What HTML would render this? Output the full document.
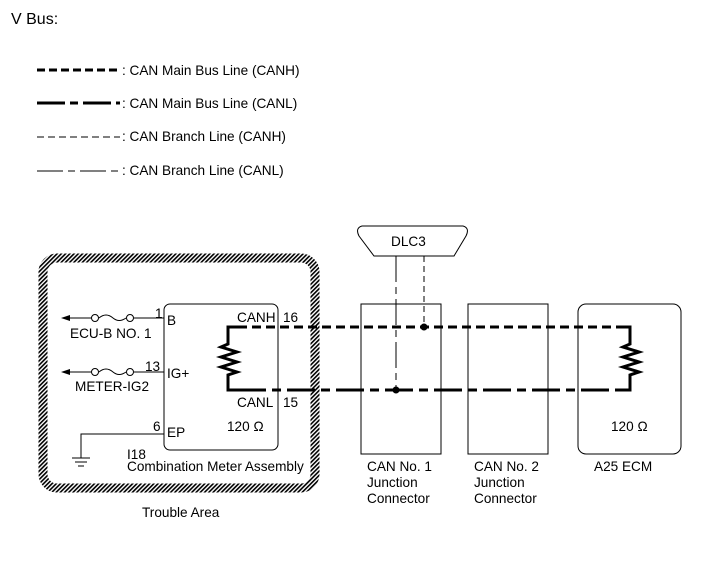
<!DOCTYPE html>
<html><head><meta charset="utf-8"><style>
html,body{margin:0;padding:0;background:#fff;}
svg{display:block;font-family:"Liberation Sans",Arial,sans-serif;}
</style></head><body>
<svg width="713" height="581" viewBox="0 0 713 581" xmlns="http://www.w3.org/2000/svg">
<defs>
<pattern id="h" width="3" height="3" patternUnits="userSpaceOnUse" patternTransform="rotate(45)">
<rect width="3" height="3" fill="#fff"/><rect width="1.6" height="3" fill="#000"/>
</pattern>
</defs>
<text x="11" y="24" font-size="16">V Bus:</text>
<g font-size="13.6">
<line x1="37" y1="70" x2="120" y2="70" stroke="#000" stroke-width="3" stroke-dasharray="8,4"/>
<text x="122" y="75">: CAN Main Bus Line (CANH)</text>
<line x1="37" y1="103" x2="120" y2="103" stroke="#000" stroke-width="3" stroke-dasharray="28,5,8,5"/>
<text x="122" y="108">: CAN Main Bus Line (CANL)</text>
<line x1="37" y1="137" x2="120" y2="137" stroke="#000" stroke-width="1" stroke-dasharray="7,4"/>
<text x="122" y="141">: CAN Branch Line (CANH)</text>
<line x1="37" y1="171" x2="120" y2="171" stroke="#000" stroke-width="1" stroke-dasharray="26,5,7,5"/>
<text x="122" y="175">: CAN Branch Line (CANL)</text>
</g>
<rect x="43" y="258" width="272" height="230" rx="14" fill="none" stroke="url(#h)" stroke-width="9"/>
<text x="142" y="517" font-size="13.6">Trouble Area</text>
<rect x="164" y="304" width="114" height="146" rx="6" fill="none" stroke="#000" stroke-width="1"/>
<g font-size="13.6">
<text x="167" y="325">B</text><text x="155" y="318">1</text>
<text x="167" y="378">IG+</text><text x="145" y="371">13</text>
<text x="167" y="437">EP</text><text x="153" y="431">6</text>
<text x="237" y="322">CANH</text><text x="283" y="322">16</text>
<text x="237" y="407">CANL</text><text x="283" y="407">15</text>
<text x="227" y="431">120 Ω</text>
<text x="127" y="459">I18</text>
<text x="127" y="471">Combination Meter Assembly</text>
<text x="70" y="338">ECU-B NO. 1</text>
<text x="75" y="391">METER-IG2</text>
</g>
<g stroke="#000" stroke-width="1" fill="none">
<line x1="68" y1="318" x2="92" y2="318"/><circle cx="95" cy="318" r="3.5" fill="#fff"/>
<path d="M99 318 Q106 312 113 318 Q119 323 126 318"/>
<circle cx="130" cy="318" r="3.5" fill="#fff"/><line x1="134" y1="318" x2="164" y2="318"/>
<line x1="68" y1="372" x2="92" y2="372"/><circle cx="95" cy="372" r="3.5" fill="#fff"/>
<path d="M99 372 Q106 366 113 372 Q119 377 126 372"/>
<circle cx="130" cy="372" r="3.5" fill="#fff"/><line x1="134" y1="372" x2="164" y2="372"/>
<polyline points="164,434 81,434 81,458"/>
<line x1="72" y1="458" x2="90" y2="458"/><line x1="75" y1="462" x2="87" y2="462"/><line x1="78" y1="466" x2="84" y2="466"/>
</g>
<polygon points="61,318 70,315 70,321" fill="#000"/>
<polygon points="61,372 70,369 70,375" fill="#000"/>
<g stroke="#000" stroke-width="3" fill="none">
<polyline points="238,327 228,327 228,344 221,347 237,352 221,357 237,362 221,367 237,372 228,375 228,390 238,390"/>
<polyline points="620,327 630,327 630,344 623,347 639,352 623,357 639,362 623,367 639,372 630,375 630,390 620,390"/>
</g>
<line x1="238" y1="327" x2="622" y2="327" stroke="#000" stroke-width="3" stroke-dasharray="9,5"/>
<line x1="238" y1="390" x2="622" y2="390" stroke="#000" stroke-width="3" stroke-dasharray="28,6,9,6"/>
<rect x="361" y="304" width="80" height="150" fill="none" stroke="#000" stroke-width="1"/>
<rect x="468" y="304" width="80" height="150" fill="none" stroke="#000" stroke-width="1"/>
<rect x="578" y="304" width="103" height="150" rx="8" fill="none" stroke="#000" stroke-width="1"/>
<path d="M362 226 L463 226 Q470 228 466 236 L454 256 L374 256 L359 236 Q355 228 362 226 Z" fill="#fff" stroke="#000" stroke-width="1"/>
<text x="391" y="246" font-size="13.6">DLC3</text>
<line x1="396" y1="256" x2="396" y2="390" stroke="#000" stroke-width="1" stroke-dasharray="26,5,7,5"/>
<line x1="424" y1="256" x2="424" y2="327" stroke="#000" stroke-width="1" stroke-dasharray="6,4"/>
<circle cx="424" cy="327" r="3.5" fill="#000"/>
<circle cx="396" cy="390" r="3.5" fill="#000"/>
<g font-size="13.6">
<text x="611" y="431">120 Ω</text>
<text x="367" y="471">CAN No. 1</text><text x="367" y="487">Junction</text><text x="367" y="503">Connector</text>
<text x="474" y="471">CAN No. 2</text><text x="474" y="487">Junction</text><text x="474" y="503">Connector</text>
<text x="594" y="471">A25  ECM</text>
</g>
</svg>
</body></html>
